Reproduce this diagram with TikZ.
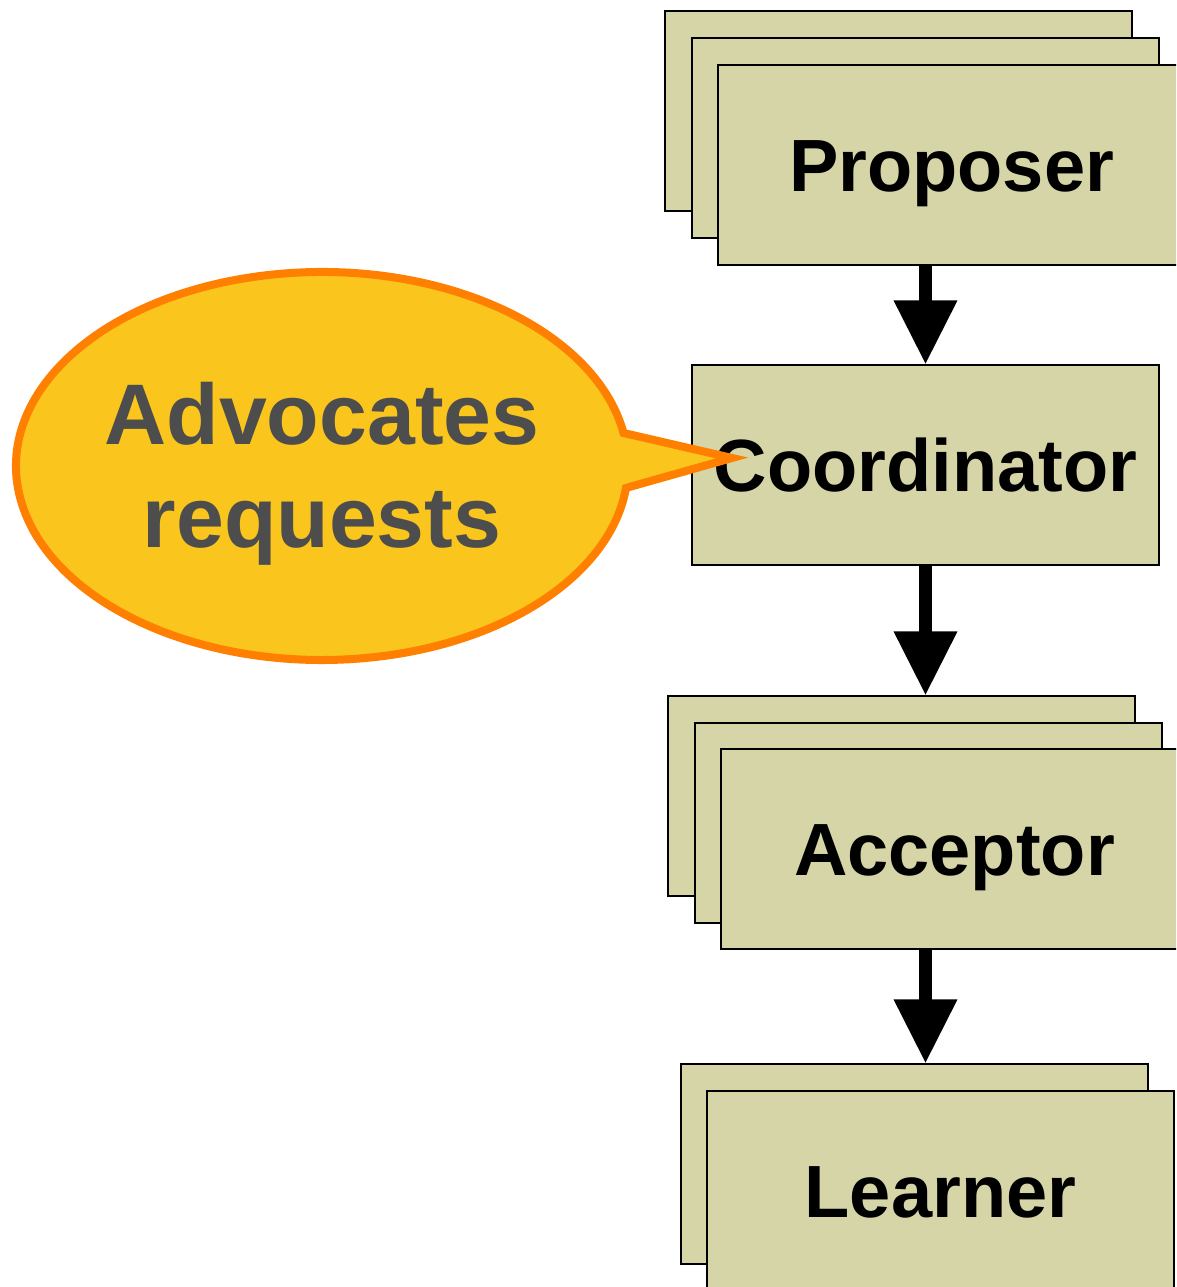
\documentclass[tikz,border=0pt]{standalone}
\usepackage{fontspec}
\setmainfont{Liberation Sans}
\usetikzlibrary{arrows.meta}
\definecolor{boxfill}{HTML}{D5D5A7}
\definecolor{bubblefill}{HTML}{FAC51C}
\definecolor{bubbleline}{HTML}{FF7F00}
\definecolor{bubbletext}{HTML}{4D4D4D}
\begin{document}
\begin{tikzpicture}[x=1pt,y=1pt,
  role/.style={draw=black, line width=2pt, fill=boxfill, minimum width=467pt,
    minimum height=200pt, inner sep=0pt, text height=53pt, text depth=0pt,
    font=\bfseries\fontsize{74}{89}\selectfont},
  flow/.style={line width=13pt, -{Triangle[width=60pt,length=64pt]}}]
\useasboundingbox (0,0) rectangle (1176,1287);
\clip (0,0) rectangle (1176,1287);

% Proposer stack
\node[role] (prop3) at (898.5,1176) {};
\node[role] (prop2) at (925,1149) {};
\node[role] (prop) at (951.5,1122) {Proposer};

% Coordinator
\node[role] (coord) at (925.5,821.5) {Coordinator};

% Acceptor stack
\node[role] (acc3) at (901.5,490.5) {};
\node[role] (acc2) at (928,464) {};
\node[role] (acc) at (954.5,437.5) {Acceptor};

% Learner stack
\node[role] (learn2) at (914,122.5) {};
\node[role] (learn) at (940.5,96) {Learner};

% Flow arrows
\draw[flow] (coord.north |- prop.south) -- (coord.north);
\draw[flow] (coord.south) -- (coord.south |- acc3.north);
\draw[flow] (coord.south |- acc.south) -- (coord.south |- learn2.north);

% Speech bubble pointing at the coordinator
\coordinate (bc) at (322,821);
\coordinate (tailtip) at (732,829);
\draw[line width=8pt, draw=bubbleline, fill=bubblefill, line join=miter, miter limit=20]
  ([shift={(9.8:306 and 194)}]bc) arc[start angle=9.8, end angle=353.5, x radius=306, y radius=194]
  -- (tailtip) -- cycle;
\node[align=center, text=bubbletext, font=\bfseries\fontsize{86}{103}\selectfont]
  (bubble) at ([yshift=-8pt]bc) {Advocates\\requests};
\end{tikzpicture}
\end{document}
